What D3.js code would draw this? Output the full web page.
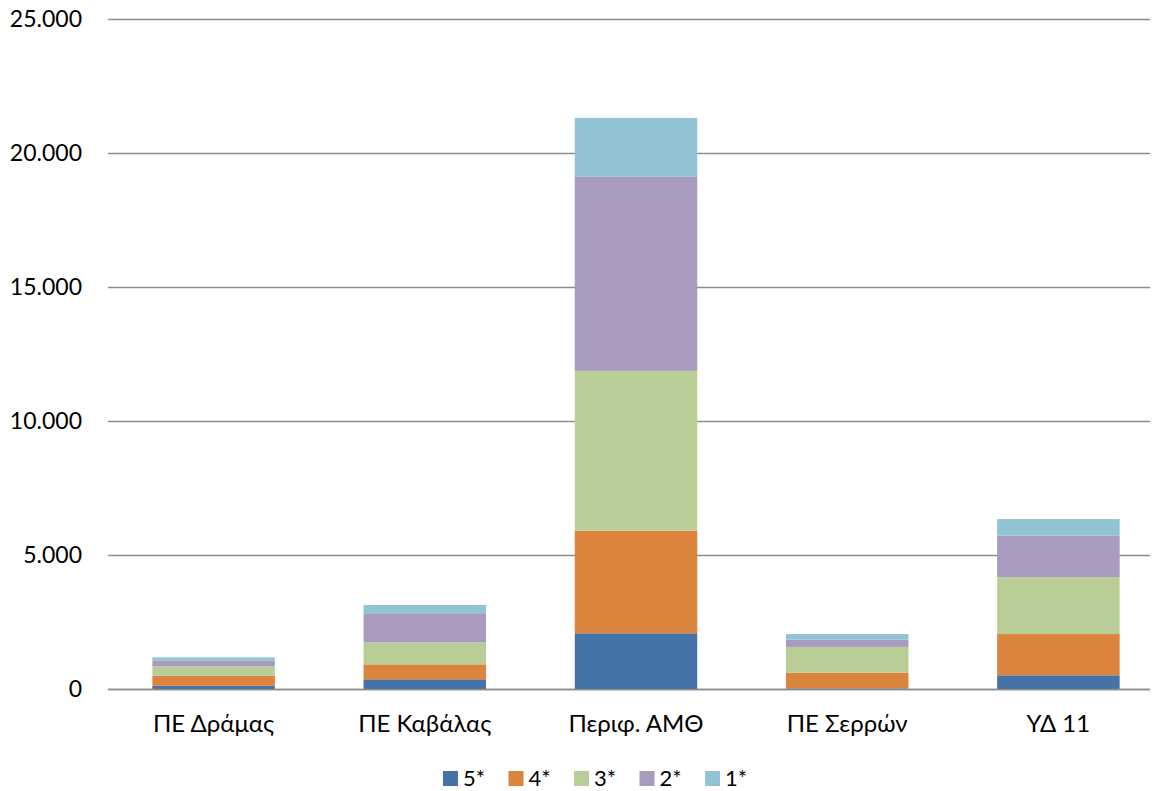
<!DOCTYPE html>
<html>
<head>
<meta charset="utf-8">
<script src="https://cdn.jsdelivr.net/npm/d3@7"></script>
<style>
	body { margin: 0; background: #fff; }
	svg { display: block; font-family: Lato, "Open Sans", sans-serif; }
</style>
</head>
<body>
<svg id="chart" width="1155" height="791"></svg>
<script>
var categories = ["ΠΕ Δράμας", "ΠΕ Καβάλας", "Περιφ. ΑΜΘ", "ΠΕ Σερρών", "ΥΔ 11"];
var seriesNames = ["5*", "4*", "3*", "2*", "1*"];

// values per star rating, one entry per category
var stars5 = [120, 360, 2080, 20, 510];
var stars4 = [370, 560, 3830, 590, 1540];
var stars3 = [360, 820, 5960, 960, 2120];
var stars2 = [200, 1060, 7240, 270, 1550];
var stars1 = [130, 335, 2200, 210, 620];

var yTicks = [0, 5000, 10000, 15000, 20000, 25000];
var colors = ["#4572a7", "#db843d", "#b9cd96", "#a99bbd", "#92c3d4"];

var svg = d3.select("#chart"),
	margin = { top: 19, right: 5, bottom: 102, left: 108 },
	width = +svg.attr("width") - margin.left - margin.right,
	height = +svg.attr("height") - margin.top - margin.bottom,
	g = svg.append("g").attr("transform", "translate(" + margin.left + "," + margin.top + ")");

var data = [];
var cols = [stars5, stars4, stars3, stars2, stars1];
for (var i = 0; i < categories.length; i++) {
	var row = { cat: categories[i] };
	for (var j = 0; j < seriesNames.length; j++) {
		row[seriesNames[j]] = cols[j][i];
	}
	data.push(row);
}

// bands are a touch wider than the gridlines
var x = d3.scaleBand()
	.domain(categories)
	.range([0, 1056])
	.paddingInner(0.42)
	.paddingOuter(0.21);

var y = d3.scaleLinear()
	.domain([0, 25000])
	.range([height, 0]);

var fmt = function(v) { return d3.format(",")(v).replace(/,/g, "."); };

// gridlines
g.append("g")
	.selectAll("line")
	.data(yTicks)
	.enter().append("line")
		.attr("x1", 0)
		.attr("x2", width)
		.attr("y1", function(d) { return Math.round(y(d)) + 0.5; })
		.attr("y2", function(d) { return Math.round(y(d)) + 0.5; })
		.attr("stroke", "#8c8c8c")
		.attr("stroke-width", 1.5);

var series = d3.stack().keys(seriesNames)(data);

g.selectAll("g.series")
	.data(series)
	.enter().append("g")
		.attr("class", "series")
		.attr("fill", function(d, i) { return colors[i]; })
	.selectAll("rect")
	.data(function(d) { return d; })
	.enter().append("rect")
		.attr("x", function(d) { return x(d.data.cat); })
		.attr("width", x.bandwidth())
		.attr("y", function(d) { return y(d[1]); })
		.attr("height", function(d) { return y(d[0]) - y(d[1]); });

// baseline over bars
g.append("line")
	.attr("x1", 0)
	.attr("x2", width)
	.attr("y1", Math.round(y(0)) + 0.5)
	.attr("y2", Math.round(y(0)) + 0.5)
	.attr("stroke", "#8c8c8c")
	.attr("stroke-width", 1.5);

// y axis labels
var yAxis = g.append("g")
	.call(d3.axisLeft(y).tickValues(yTicks).tickFormat(fmt).tickSize(0).tickPadding(26));
yAxis.select(".domain").remove();
yAxis.selectAll("text")
	.attr("font-family", "Lato, sans-serif")
	.attr("font-size", "23px")
	.attr("fill", "#000");

// x axis labels
var xAxis = g.append("g")
	.attr("transform", "translate(0," + height + ")")
	.call(d3.axisBottom(x).tickSize(0).tickPadding(26));
xAxis.select(".domain").remove();
xAxis.selectAll("text")
	.attr("font-family", "Lato, sans-serif")
	.attr("font-size", "24px")
	.attr("fill", "#000");

// legend
var legend = svg.append("g")
	.attr("transform", "translate(443,771)");

var items = legend.selectAll("g")
	.data(seriesNames)
	.enter().append("g")
		.attr("transform", function(d, i) { return "translate(" + (i * 65.5) + ",0)"; });

items.append("rect")
	.attr("width", 15)
	.attr("height", 15)
	.attr("fill", function(d, i) { return colors[i]; });

items.append("text")
	.attr("x", 20)
	.attr("y", 7.5)
	.attr("dy", "0.35em")
	.attr("font-size", "22px")
	.attr("fill", "#000")
	.text(function(d) { return d; });
</script>
</body>
</html>
